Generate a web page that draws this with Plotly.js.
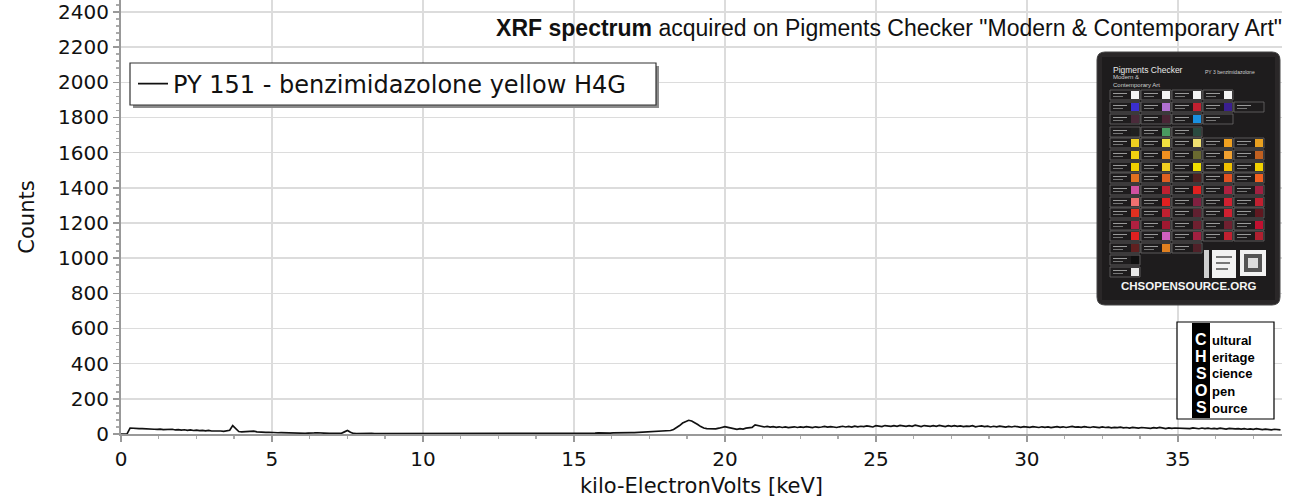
<!DOCTYPE html>
<html>
<head>
<meta charset="utf-8">
<script src="https://cdn.plot.ly/plotly-3.0.1.min.js"></script>
<style>
  html, body { margin: 0; padding: 0; background: #fff; }
  #chart { width: 1290px; height: 502px; }
</style>
</head>
<body>
<div id="chart"></div>
<script>
// spectrum sampled every 0.1 keV starting at 0 keV, one row per keV
var energyStart = 0;
var energyStep = 0.1;
var counts = [
  0, 0, 1, 34, 32, 31, 30, 31, 29, 28,
  28, 27, 26, 28, 25, 26, 24, 27, 23, 25,
  22, 24, 21, 23, 20, 22, 19, 21, 18, 20,
  17, 18, 16, 17, 15, 17, 21, 48, 28, 14,
  12, 13, 11, 12, 16, 12, 10, 11, 9, 10,
  8, 9, 7, 8, 7, 6, 7, 5, 6, 5,
  5, 4, 5, 4, 6, 7, 5, 3, 4, 3,
  3, 2, 3, 4, 12, 20, 10, 3, 2, 3,
  2, 3, 2, 3, 2, 2, 3, 2, 1, 2,
  2, 1, 2, 3, 2, 1, 2, 2, 1, 2,
  1, 2, 2, 1, 2, 2, 1, 2, 3, 2,
  2, 1, 2, 3, 2, 3, 2, 2, 3, 2,
  3, 2, 3, 2, 3, 3, 2, 3, 2, 3,
  3, 2, 3, 4, 3, 2, 3, 3, 4, 3,
  3, 4, 3, 3, 4, 3, 4, 4, 3, 4,
  4, 3, 4, 5, 4, 5, 4, 5, 6, 5,
  5, 6, 5, 6, 7, 6, 7, 8, 7, 8,
  8, 9, 10, 9, 11, 12, 11, 13, 14, 13,
  16, 18, 20, 26, 35, 48, 62, 72, 78, 74,
  66, 54, 42, 34, 31, 30, 32, 29, 33, 36,
  42, 38, 34, 28, 26, 30, 28, 33, 35, 38,
  52, 46, 44, 40, 43, 39, 42, 38, 41, 37,
  40, 36, 39, 41, 37, 40, 38, 42, 39, 36,
  41, 38, 40, 43, 39, 42, 40, 37, 41, 44,
  40, 43, 39, 45, 41, 44, 42, 46, 43, 40,
  47, 44, 42, 48, 45, 43, 47, 44, 49, 45,
  43, 47, 44, 50, 46, 42, 48, 45, 43, 47,
  44, 49, 45, 42, 47, 44, 48, 43, 46, 42,
  45, 43, 47, 41, 44, 46, 42, 45, 40, 44,
  41, 45, 42, 39, 43, 40, 44, 41, 38, 42,
  40, 38, 42, 39, 37, 41, 38, 40, 36, 39,
  42, 38, 41, 37, 40, 43, 39, 41, 38, 42,
  39, 37, 41, 38, 36, 40, 37, 39, 35, 38,
  36, 39, 35, 37, 34, 38, 35, 33, 37, 34,
  35, 32, 36, 33, 37, 34, 31, 35, 32, 34,
  33, 36, 32, 34, 31, 35, 32, 30, 34, 31,
  33, 30, 32, 29, 33, 31, 28, 32, 30, 29,
  31, 28, 30, 27, 29, 26, 30, 27, 25, 28,
  26, 24, 27, 25, 23
];
var seriesName = 'PY 151 - benzimidazolone yellow H4G';
var yTicks = [0, 200, 400, 600, 800, 1000, 1200, 1400, 1600, 1800, 2000, 2200, 2400];
var xTicks = [0, 5, 10, 15, 20, 25, 30, 35];

// swatch colours of the pigments checker card photo (decoration), row by row
var cardRows = [
  ['#f4f4f4', '#f4f4f4', '#f4f4f4', '#f4f4f4', null],
  ['#3a2fd0', '#b070d0', '#c02030', '#3a1f90', ''],
  ['#4a2a3a', '#4a2535', '#1a90e0', '', null],
  ['#202020', '#4a9a60', '#2a4a40', null, null],
  ['#f0d020', '#f0e040', '#f0e070', '#f0a020', '#e8a020'],
  ['#f0d010', '#f09020', '#6a6a30', '#f0a030', '#c06020'],
  ['#f0d000', '#f0d020', '#f0e000', '#f0c000', '#f0d000'],
  ['#e07020', '#e06020', '#502020', '#e05020', '#f06020'],
  ['#d050a0', '#c02030', '#e02020', '#b02040', '#a02040'],
  ['#f07070', '#e02020', '#802040', '#d02030', '#c02030'],
  ['#e03020', '#c02030', '#602030', '#d02030', '#601820'],
  ['#b02040', '#a01830', '#702030', '#702030', '#c01030'],
  ['#e02020', '#d060c0', '#a02040', '#c02030', '#b02030'],
  ['#602020', '#e08020', '#502028', null, null],
  ['#101010', null, null, null, null],
  ['#e8e8e8', null, null, null, null]
];

// pixel -> paper helpers (plot area: x 121..1282, y 0..434)
function px(x) { return (x - 121) / 1161; }
function py(y) { return (434 - y) / 434; }

var shapes = [];
var annotations = [];

function rectPx(x0, y0, x1, y1, fill, line, lw) {
  shapes.push({
    type: 'rect', xref: 'paper', yref: 'paper', layer: 'above',
    x0: px(x0), x1: px(x1), y0: py(y1), y1: py(y0),
    fillcolor: fill, line: { color: line || fill, width: lw === undefined ? 0 : lw }
  });
}

// legend box with its drop shadow
rectPx(133, 66, 659, 108, '#8c8c8c', '#8c8c8c', 0);
rectPx(130, 63, 656, 105, '#ffffff', '#333333', 1.2);

// card photo
(function () {
  var x0 = 1097, y0 = 52, x1 = 1280, y1 = 305, r = 8;
  var p = 'M ' + px(x0 + r) + ',' + py(y0) +
    ' L ' + px(x1 - r) + ',' + py(y0) +
    ' Q ' + px(x1) + ',' + py(y0) + ' ' + px(x1) + ',' + py(y0 + r) +
    ' L ' + px(x1) + ',' + py(y1 - r) +
    ' Q ' + px(x1) + ',' + py(y1) + ' ' + px(x1 - r) + ',' + py(y1) +
    ' L ' + px(x0 + r) + ',' + py(y1) +
    ' Q ' + px(x0) + ',' + py(y1) + ' ' + px(x0) + ',' + py(y1 - r) +
    ' L ' + px(x0) + ',' + py(y0 + r) +
    ' Q ' + px(x0) + ',' + py(y0) + ' ' + px(x0 + r) + ',' + py(y0) + ' Z';
  shapes.push({ type: 'path', xref: 'paper', yref: 'paper', layer: 'above', path: p,
    fillcolor: '#2a2728', line: { color: '#444', width: 1 } });
  rectPx(1102, 57, 1275, 300, '#1e1c1d', '#1e1c1d', 0);

  var colX = [1135, 1166, 1197, 1228, 1259];
  var rowY = [95, 107, 119, 132, 143, 155, 167, 178, 190, 202, 213, 225, 236, 248, 260, 272];
  cardRows.forEach(function (row, ri) {
    row.forEach(function (c, ci) {
      if (c === null) return;
      var sx = colX[ci], sy = rowY[ri];
      rectPx(sx - 25, sy - 5, sx + 5, sy + 5, 'rgba(0,0,0,0)', '#6a6a6a', 0.8);
      rectPx(sx - 22, sy - 2, sx - 8, sy - 1, '#9a9a9a', '#9a9a9a', 0);
      rectPx(sx - 22, sy + 1, sx - 12, sy + 2, '#777', '#777', 0);
      if (c) rectPx(sx - 4, sy - 4, sx + 4, sy + 4, c, c, 0);
    });
  });
  // qr code stickers
  rectPx(1212, 250, 1236, 278, '#f2f2f2', '#f2f2f2', 0);
  rectPx(1216, 256, 1232, 258, '#777', '#777', 0);
  rectPx(1216, 262, 1230, 264, '#777', '#777', 0);
  rectPx(1216, 268, 1228, 270, '#777', '#777', 0);
  rectPx(1240, 250, 1266, 276, '#f2f2f2', '#f2f2f2', 0);
  rectPx(1244, 254, 1262, 272, '#555', '#555', 0);
  rectPx(1248, 258, 1258, 268, '#ddd', '#ddd', 0);
  rectPx(1204, 250, 1209, 278, '#cfcfcf', '#cfcfcf', 0);
  annotations.push({ xref: 'paper', yref: 'paper', x: px(1111), y: py(70), xanchor: 'left', yanchor: 'middle',
    text: 'Pigments Checker', showarrow: false, font: { family: 'Liberation Sans', size: 8.5, color: '#e8e8e8' } });
  annotations.push({ xref: 'paper', yref: 'paper', x: px(1111), y: py(81), xanchor: 'left', yanchor: 'middle',
    text: 'Modern &amp;<br>Contemporary Art', showarrow: false, align: 'left',
    font: { family: 'Liberation Sans', size: 6, color: '#d0d0d0' } });
  annotations.push({ xref: 'paper', yref: 'paper', x: px(1230), y: py(72), xanchor: 'center', yanchor: 'middle',
    text: 'PY 3 benzimidazolone', showarrow: false, font: { family: 'Liberation Sans', size: 5, color: '#cfcfcf' } });
  annotations.push({ xref: 'paper', yref: 'paper', x: px(1189), y: py(286), xanchor: 'center', yanchor: 'middle',
    text: '<b>CHSOPENSOURCE.ORG</b>', showarrow: false, font: { family: 'Liberation Sans', size: 11.5, color: '#f4f4f4' } });
})();

// CHSOS logo
(function () {
  rectPx(1177, 322, 1274, 419, '#ffffff', '#000000', 1.2);
  rectPx(1192, 323, 1210, 418, '#000000', '#000000', 0);
  var initials = ['C', 'H', 'S', 'O', 'S'];
  var words = ['ultural', 'eritage', 'cience', 'pen', 'ource'];
  var ys = [339, 356, 373, 390, 407];
  initials.forEach(function (ch, i) {
    annotations.push({ xref: 'paper', yref: 'paper', x: px(1201), y: py(ys[i]), xanchor: 'center', yanchor: 'middle',
      text: '<b>' + ch + '</b>', showarrow: false, borderpad: 0,
      font: { family: 'Liberation Sans', size: 16, color: '#ffffff' } });
    annotations.push({ xref: 'paper', yref: 'paper', x: px(1211), y: py(ys[i] + 1), xanchor: 'left', yanchor: 'middle',
      text: '<b>' + words[i] + '</b>', showarrow: false, borderpad: 0,
      font: { family: 'Liberation Sans', size: 13, color: '#000000' } });
  });
})();

var trace = {
  y: counts,
  x0: energyStart,
  dx: energyStep,
  type: 'scatter',
  mode: 'lines',
  name: seriesName,
  line: { color: '#111111', width: 1.7 }
};

var tickFont = { family: 'DejaVu Sans, Verdana, sans-serif', size: 20, color: '#111' };
var titleFont = { family: 'DejaVu Sans, Verdana, sans-serif', size: 21, color: '#111' };

var layout = {
  width: 1290,
  height: 502,
  margin: { l: 121, r: 8, t: 0, b: 68 },
  paper_bgcolor: '#ffffff',
  plot_bgcolor: '#ffffff',
  showlegend: true,
  title: {
    text: '<b>XRF spectrum</b> acquired on Pigments Checker "Modern &amp; Contemporary Art"',
    font: { family: 'Liberation Sans, Arial, sans-serif', size: 23, color: '#111' },
    xref: 'paper', x: 1, xanchor: 'right',
    yref: 'container', y: 1 - 28 / 502, yanchor: 'middle'
  },
  legend: {
    x: px(133), y: py(84), xanchor: 'left', yanchor: 'middle',
    bgcolor: 'rgba(0,0,0,0)', borderwidth: 0,
    font: { family: 'DejaVu Sans, Verdana, sans-serif', size: 24, color: '#111' },
    itemwidth: 30
  },
  xaxis: {
    range: [0, 38.45],
    tickvals: xTicks,
    ticktext: xTicks.map(String),
    ticks: 'outside', ticklen: 6, tickcolor: '#999', tickwidth: 1.5,
    minor: { dtick: 1.25, ticks: 'outside', ticklen: 3, tickcolor: '#aaa', showgrid: false },
    showline: true, linecolor: '#999', linewidth: 2,
    showgrid: true, gridcolor: '#dcdcdc', gridwidth: 1.5,
    zeroline: false,
    ticklabeloverflow: 'allow',
    tickfont: tickFont,
    title: { text: 'kilo-ElectronVolts [keV]', font: titleFont, standoff: 8 }
  },
  yaxis: {
    range: [0, 2468],
    tickvals: yTicks,
    ticktext: yTicks.map(String),
    ticks: 'outside', ticklen: 6, tickcolor: '#999', tickwidth: 1.5,
    minor: { dtick: 40, ticks: 'outside', ticklen: 3, tickcolor: '#aaa', showgrid: false },
    showline: true, linecolor: '#999', linewidth: 2,
    showgrid: true, gridcolor: '#dcdcdc', gridwidth: 1.5,
    zeroline: false,
    ticklabeloverflow: 'allow',
    tickfont: tickFont,
    title: { text: 'Counts', font: titleFont, standoff: 18 }
  },
  shapes: shapes,
  annotations: annotations
};

Plotly.newPlot(document.getElementById('chart'), [trace], layout, { displayModeBar: false, staticPlot: true });
</script>
</body>
</html>
